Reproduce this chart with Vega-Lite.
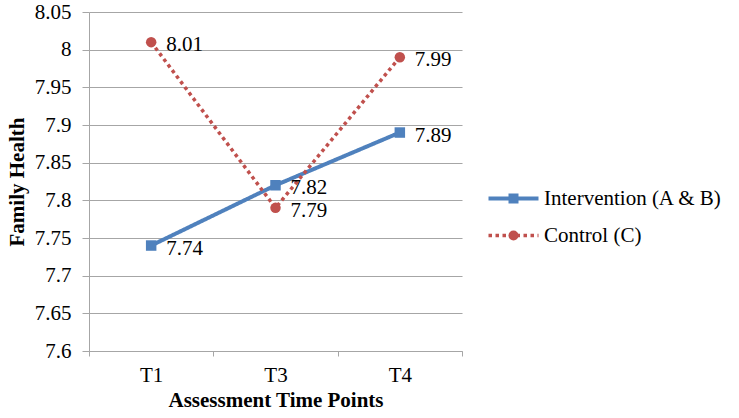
{
  "$schema": "https://vega.github.io/schema/vega-lite/v6.json",
  "width": 373,
  "height": 339,
  "autosize": {"type": "none"},
  "padding": {"left": 89, "top": 12, "right": 277, "bottom": 67},
  "background": "white",
  "config": {
    "font": "Liberation Serif",
    "view": {"stroke": null},
    "legend": {"padding": 0},
    "axis": {"labelFont": "Liberation Serif", "titleFont": "Liberation Serif", "labelColor": "black", "titleColor": "black"}
  },
  "data": {
    "values": [
      {"time": "T1", "value": 7.74, "series": "Intervention (A & B)", "marker": "m1"},
      {"time": "T3", "value": 7.82, "series": "Intervention (A & B)", "marker": "m1"},
      {"time": "T4", "value": 7.89, "series": "Intervention (A & B)", "marker": "m1"},
      {"time": "T1", "value": 8.01, "series": "Control (C)", "marker": "m2"},
      {"time": "T3", "value": 7.79, "series": "Control (C)", "marker": "m2"},
      {"time": "T4", "value": 7.99, "series": "Control (C)", "marker": "m2"}
    ]
  },
  "encoding": {
    "x": {
      "field": "time", "type": "nominal",
      "scale": {"type": "band", "domain": ["T1", "T3", "T4"], "paddingInner": 0, "paddingOuter": 0},
      "bandPosition": 0.5,
      "axis": {
        "title": "Assessment Time Points", "titleFontSize": 21, "titleFontWeight": "bold", "titlePadding": 4,
        "labelFontSize": 21, "labelAngle": 0, "labelPadding": 8,
        "domainColor": "#a6a6a6", "tickColor": "#a6a6a6", "tickSize": 5, "tickBand": "extent", "grid": false
      }
    },
    "y": {
      "field": "value", "type": "quantitative",
      "scale": {"domain": [7.6, 8.05], "nice": false, "zero": false},
      "axis": {
        "title": "Family Health", "titleFontSize": 21, "titleFontWeight": "bold", "titlePadding": 7,
        "labelFontSize": 21, "labelPadding": 11, "format": ".3~g",
        "values": [7.6, 7.65, 7.7, 7.75, 7.8, 7.85, 7.9, 7.95, 8, 8.05],
        "domainColor": "#a6a6a6", "tickColor": "#a6a6a6", "tickSize": 7,
        "gridColor": "#a6a6a6", "gridWidth": 1.2
      }
    }
  },
  "layer": [
    {
      "mark": {"type": "line", "strokeCap": "butt"},
      "encoding": {
        "stroke": {"field": "series", "type": "nominal",
          "scale": {"domain": ["Intervention (A & B)", "Control (C)"], "range": ["#4f81bd", "#c0504d"]},
          "legend": {"orient": "none", "legendX": 414, "legendY": 176, "title": null, "labelFontSize": 21, "labelColor": "black",
            "labelFont": "Liberation Serif", "labelLimit": 400,
            "symbolType": "M-5,0H5", "symbolSize": 100, "symbolStrokeWidth": 3.5, "rowPadding": 15, "labelOffset": 20}},
        "strokeDash": {"field": "series", "type": "nominal",
          "scale": {"domain": ["Intervention (A & B)", "Control (C)"], "range": [[1, 0], [3.5, 3.5]]}},
        "strokeWidth": {"field": "series", "type": "nominal",
          "scale": {"domain": ["Intervention (A & B)", "Control (C)"], "range": [4, 3.5]}, "legend": null}
      }
    },
    {
      "mark": {"type": "point", "filled": true, "opacity": 1, "size": 110, "strokeWidth": 0},
      "encoding": {
        "fill": {"field": "marker", "type": "nominal",
          "scale": {"domain": ["m1", "m2"], "range": ["#4f81bd", "#c0504d"]},
          "legend": {"orient": "none", "legendX": 414, "legendY": 176, "title": null, "labelExpr": "''", "labelFontSize": 21,
            "labelFont": "Liberation Serif", "symbolSize": 100, "symbolStrokeWidth": 0, "rowPadding": 15, "labelOffset": 20, "symbolOpacity": 1}},
        "shape": {"field": "marker", "type": "nominal",
          "scale": {"domain": ["m1", "m2"], "range": ["square", "circle"]},
          "legend": {"orient": "none", "legendX": 414, "legendY": 176, "title": null, "labelExpr": "''", "labelFontSize": 21,
            "labelFont": "Liberation Serif", "symbolSize": 100, "symbolStrokeWidth": 0, "rowPadding": 15, "labelOffset": 20, "symbolOpacity": 1}}
      }
    },
    {
      "mark": {"type": "text", "align": "left", "baseline": "middle", "dx": 15, "dy": 3, "fontSize": 21, "font": "Liberation Serif", "color": "black"},
      "encoding": {"text": {"field": "value", "type": "quantitative", "format": ".2f"}}
    }
  ]
}
